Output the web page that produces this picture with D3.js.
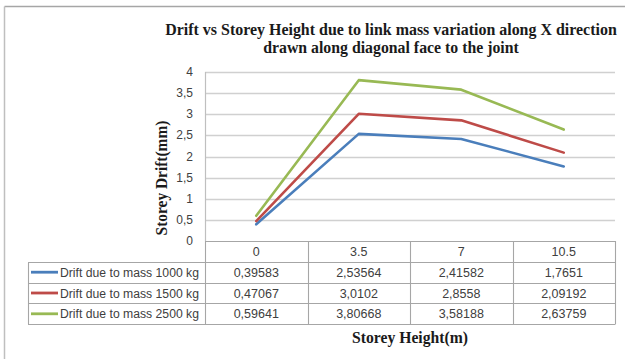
<!DOCTYPE html>
<html>
<head>
<meta charset="utf-8">
<script src="https://cdn.jsdelivr.net/npm/d3@7"></script>
<style>
  html, body { margin: 0; padding: 0; background: #fff; }
  svg { display: block; }
</style>
</head>
<body>
<svg id="chart" width="625" height="359"></svg>
<script>
const categories = ["0", "3.5", "7", "10.5"];
const seriesNames = ["Drift due to mass 1000 kg", "Drift due to mass 1500 kg", "Drift due to mass 2500 kg"];
const mass1000 = [0.39583, 2.53564, 2.41582, 1.7651];
const mass1500 = [0.47067, 3.0102, 2.8558, 2.09192];
const mass2500 = [0.59641, 3.80668, 3.58188, 2.63759];
const seriesColors = ["#4A7EBB", "#BE4B48", "#98B954"];
const yTicks = [0, 0.5, 1, 1.5, 2, 2.5, 3, 3.5, 4];
const yTickLabels = ["0", "0,5", "1", "1,5", "2", "2,5", "3", "3,5", "4"];
const titleLines = ["Drift vs Storey Height due to link mass variation along X direction", "drawn along diagonal face to the joint"];
const xTitle = "Storey Height(m)";
const yTitle = "Storey Drift(mm)";

const series = [mass1000, mass1500, mass2500];

const svg = d3.select("#chart");
const plotLeft = 205, plotRight = 615, plotTop = 72, plotBottom = 241;
const rowH = 20.8;
const tableLeft = 28;

const x = d3.scaleBand().domain(categories).range([plotLeft, plotRight]);
const y = d3.scaleLinear().domain([0, 4]).range([plotBottom, plotTop]);

// chart border (top and left visible)
svg.append("line").attr("x1", 4.5).attr("x2", 625).attr("y1", 6.5).attr("y2", 6.5)
  .attr("stroke", "#A6A6A6").attr("stroke-width", 1.5);
svg.append("line").attr("x1", 4.5).attr("x2", 4.5).attr("y1", 6.5).attr("y2", 359)
  .attr("stroke", "#BFBFBF").attr("stroke-width", 1.5);

const serif = "'Liberation Serif', 'Times New Roman', serif";
const sans = "'Liberation Sans', Arial, sans-serif";

// condensed bold serif text fitted to a target width via scale transform
function fittedText(parent, cx, baseline, str, size, targetW, rotate) {
  const g = parent.append("g");
  const t = g.append("text").attr("text-anchor", "middle")
    .attr("font-family", serif).attr("font-weight", "bold").attr("font-size", size)
    .attr("fill", "#1a1a1a").text(str);
  const w = t.node().getComputedTextLength();
  const s = targetW / w;
  g.attr("transform", `translate(${cx},${baseline})` + (rotate ? ` rotate(${rotate})` : "") + ` scale(${s},1)`);
  return g;
}

// title
fittedText(svg, 391, 35, titleLines[0], 17, 452);
fittedText(svg, 391, 53, titleLines[1], 17, 256);

// gridlines
svg.append("g").selectAll("line").data(yTicks.filter(d => d > 0)).join("line")
  .attr("x1", plotLeft).attr("x2", plotRight)
  .attr("y1", d => Math.round(y(d)) + 0.5).attr("y2", d => Math.round(y(d)) + 0.5)
  .attr("stroke", "#D0D0D0").attr("stroke-width", 1.3);

// y axis (left line)
svg.append("line").attr("x1", plotLeft + 0.5).attr("x2", plotLeft + 0.5)
  .attr("y1", plotTop).attr("y2", plotBottom)
  .attr("stroke", "#BFBFBF").attr("stroke-width", 1.2);

// y tick labels
svg.append("g").selectAll("text").data(yTicks).join("text")
  .attr("x", 193).attr("y", d => y(d) + 4)
  .attr("text-anchor", "end")
  .attr("font-family", sans).attr("font-size", 12).attr("fill", "#404040")
  .text((d, i) => yTickLabels[i]);

// y title
fittedText(svg, 167, 178, yTitle, 17, 115, -90);

// lines
const line = d3.line().x((d, i) => x(categories[i]) + x.bandwidth() / 2).y(d => y(d));
series.forEach((s, k) => {
  svg.append("path").datum(s).attr("d", line)
    .attr("fill", "none").attr("stroke", seriesColors[k]).attr("stroke-width", 2.6)
    .attr("stroke-linejoin", "round").attr("stroke-linecap", "round");
});

// data table
const tableColor = "#A6A6A6";
const tbl = svg.append("g").attr("stroke", tableColor).attr("stroke-width", 1.1).attr("fill", "none");
tbl.append("line").attr("x1", plotLeft).attr("x2", plotRight).attr("y1", plotBottom + 0.5).attr("y2", plotBottom + 0.5);
const rowLines = d3.range(1, series.length + 2).map(i => plotBottom + i * rowH);
tbl.selectAll("line.h").data(rowLines).join("line").attr("class", "h")
  .attr("x1", tableLeft).attr("x2", plotRight)
  .attr("y1", d => Math.round(d) + 0.5).attr("y2", d => Math.round(d) + 0.5);
const colEdges = categories.map(c => x(c)).concat([plotRight]);
tbl.selectAll("line.v").data(colEdges).join("line").attr("class", "v")
  .attr("x1", d => Math.round(d) + 0.5).attr("x2", d => Math.round(d) + 0.5)
  .attr("y1", plotBottom).attr("y2", Math.round(plotBottom + (series.length + 1) * rowH) + 0.5);
tbl.append("line")
  .attr("x1", tableLeft + 0.5).attr("x2", tableLeft + 0.5)
  .attr("y1", Math.round(plotBottom + rowH) + 0.5).attr("y2", Math.round(plotBottom + (series.length + 1) * rowH) + 0.5);

// header labels
svg.append("g").selectAll("text").data(categories).join("text")
  .attr("x", d => x(d) + x.bandwidth() / 2).attr("y", plotBottom + rowH / 2 + 4.5)
  .attr("text-anchor", "middle")
  .attr("font-family", sans).attr("font-size", 12.5).attr("fill", "#404040")
  .text(d => d);

// rows
series.forEach((s, k) => {
  const cy = plotBottom + (k + 1) * rowH + rowH / 2;
  svg.append("line").attr("x1", 31).attr("x2", 58).attr("y1", cy).attr("y2", cy)
    .attr("stroke", seriesColors[k]).attr("stroke-width", 2.8);
  svg.append("text").attr("x", 60).attr("y", cy + 4.5)
    .attr("font-family", sans).attr("font-size", 12.5).attr("fill", "#404040")
    .attr("textLength", 139).attr("lengthAdjust", "spacingAndGlyphs")
    .text(seriesNames[k]);
  svg.append("g").selectAll("text").data(s).join("text")
    .attr("x", (d, i) => x(categories[i]) + x.bandwidth() / 2).attr("y", cy + 4.5)
    .attr("text-anchor", "middle")
    .attr("font-family", sans).attr("font-size", 12.5).attr("fill", "#404040")
    .text(d => String(d).replace(".", ","));
});

// x title
fittedText(svg, 410, 343, xTitle, 17, 116);
</script>
</body>
</html>
